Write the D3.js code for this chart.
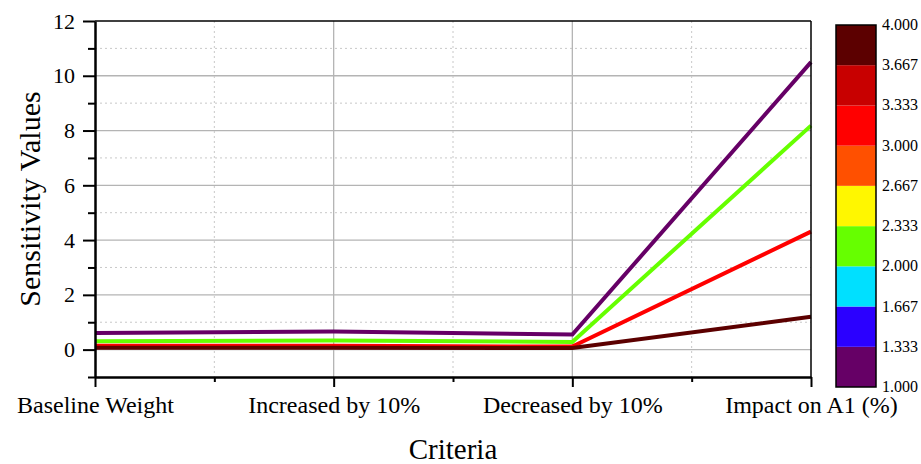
<!DOCTYPE html>
<html>
<head>
<meta charset="utf-8">
<script src="https://cdn.jsdelivr.net/npm/d3@7"></script>
<style>
  body { margin: 0; background: #fff; }
  text { font-family: "Liberation Serif", "Times New Roman", serif; }
</style>
</head>
<body>
<div id="figure-holder"></div>
<script>
// data
const categories = ['Baseline Weight', 'Increased by 10%', 'Decreased by 10%', 'Impact on A1 (%)'];
const seriesColors = ['#660066', '#66ff00', '#ff0000', '#5c0000'];
const purpleValues = [0.61, 0.66, 0.55, 10.5];
const greenValues = [0.31, 0.33, 0.28, 8.18];
const redValues = [0.14, 0.14, 0.11, 4.31];
const darkRedValues = [0.07, 0.07, 0.06, 1.2];
const yTicks = [0, 2, 4, 6, 8, 10, 12];
const colorbarTicks = ['1.000', '1.333', '1.667', '2.000', '2.333', '2.667', '3.000', '3.333', '3.667', '4.000'];
const colorbarColors = ['#660066', '#2b00ff', '#00e0ff', '#66ff00', '#fff700', '#ff5000', '#ff0000', '#c80000', '#5c0000'];

const W = 921, H = 464;
const plot = { left: 95, right: 811, top: 21, bottom: 377 };

const svg = d3.select('#figure-holder').append('svg')
    .attr('width', W)
    .attr('height', H);

const x = d3.scalePoint()
    .domain(categories)
    .range([plot.left, plot.right]);

const y = d3.scaleLinear()
    .domain([-1, 12])
    .range([plot.bottom, plot.top]);

const step = x.step();

// grid lines
const grid = svg.append('g');
d3.range(1, 12, 2).forEach(v => {
    grid.append('line')
        .attr('x1', plot.left).attr('x2', plot.right)
        .attr('y1', y(v)).attr('y2', y(v))
        .attr('stroke', '#c8c8c8').attr('stroke-dasharray', '2,3');
});
yTicks.filter(v => v < 12).forEach(v => {
    grid.append('line')
        .attr('x1', plot.left).attr('x2', plot.right)
        .attr('y1', y(v)).attr('y2', y(v))
        .attr('stroke', '#b4b4b4').attr('stroke-width', 1.3);
});
categories.slice(1, -1).forEach(c => {
    grid.append('line')
        .attr('x1', x(c)).attr('x2', x(c))
        .attr('y1', plot.top).attr('y2', plot.bottom)
        .attr('stroke', '#b4b4b4').attr('stroke-width', 1.3);
});
categories.slice(0, -1).forEach(c => {
    grid.append('line')
        .attr('x1', x(c) + step / 2).attr('x2', x(c) + step / 2)
        .attr('y1', plot.top).attr('y2', plot.bottom)
        .attr('stroke', '#c8c8c8').attr('stroke-dasharray', '2,3');
});

// lines
const line = d3.line()
    .x((d, i) => x(categories[i]))
    .y(d => y(d));

[purpleValues, greenValues, redValues, darkRedValues].forEach((vals, i) => {
    svg.append('path')
        .datum(vals)
        .attr('d', line)
        .attr('fill', 'none')
        .attr('stroke', seriesColors[i])
        .attr('stroke-width', 4)
        .attr('stroke-linejoin', 'miter');
});

// frame top and right
svg.append('line')
    .attr('x1', plot.left).attr('x2', plot.right)
    .attr('y1', plot.top).attr('y2', plot.top)
    .attr('stroke', '#000').attr('stroke-width', 1.5);
svg.append('line')
    .attr('x1', plot.right).attr('x2', plot.right)
    .attr('y1', plot.top).attr('y2', plot.bottom)
    .attr('stroke', '#000').attr('stroke-width', 1.5);

// y axis
const yAxis = svg.append('g')
    .attr('id', 'y-axis')
    .attr('transform', `translate(${plot.left}, 0)`)
    .call(d3.axisLeft(y).tickValues(yTicks).tickSize(12).tickPadding(8).tickSizeOuter(0));
const yMinor = svg.append('g')
    .attr('transform', `translate(${plot.left}, 0)`)
    .call(d3.axisLeft(y).tickValues(d3.range(-1, 12, 2)).tickSize(7).tickFormat('').tickSizeOuter(0));
yMinor.select('.domain').remove();

// x axis
const xAxis = svg.append('g')
    .attr('id', 'x-axis')
    .attr('transform', `translate(0, ${plot.bottom})`)
    .call(d3.axisBottom(x).tickSize(10).tickPadding(9).tickSizeOuter(0));
const xMinor = svg.append('g')
    .attr('transform', `translate(0, ${plot.bottom})`)
    .call(d3.axisBottom(d3.scaleLinear().domain([0, 1]).range([plot.left, plot.right]))
        .tickValues(d3.range(1, 6, 2).map(d => d / 6)).tickSize(5).tickFormat('').tickSizeOuter(0));
xMinor.select('.domain').remove();

svg.selectAll('#y-axis, #x-axis').select('.domain')
    .attr('stroke-width', 2.5);
svg.selectAll('.tick line').attr('stroke-width', 2);

svg.selectAll('#y-axis text')
    .style('font-size', '22px')
    .attr('fill', '#000');
svg.selectAll('#x-axis text')
    .style('font-size', '24px')
    .attr('fill', '#000');

// axis titles
svg.append('text')
    .text('Sensitivity Values')
    .attr('transform', `translate(40, ${(plot.top + plot.bottom) / 2}) rotate(-90)`)
    .attr('text-anchor', 'middle')
    .style('font-size', '30px');

svg.append('text')
    .text('Criteria')
    .attr('x', (plot.left + plot.right) / 2)
    .attr('y', 459)
    .attr('text-anchor', 'middle')
    .style('font-size', '29px');

// colorbar
const cb = { x: 836, w: 40, top: 25, bottom: 387 };
const cbScale = d3.scaleLinear()
    .domain([1, 4])
    .range([cb.bottom, cb.top]);
const cbVals = colorbarTicks.map(Number);

svg.append('g').selectAll('rect')
    .data(colorbarColors)
    .join('rect')
    .attr('x', cb.x)
    .attr('width', cb.w)
    .attr('y', (d, i) => cbScale(cbVals[i + 1]))
    .attr('height', (d, i) => cbScale(cbVals[i]) - cbScale(cbVals[i + 1]))
    .attr('fill', d => d);

svg.append('rect')
    .attr('x', cb.x).attr('y', cb.top)
    .attr('width', cb.w).attr('height', cb.bottom - cb.top)
    .attr('fill', 'none').attr('stroke', '#000').attr('stroke-width', 1.5);

svg.append('g').selectAll('text')
    .data(colorbarTicks)
    .join('text')
    .text(d => d)
    .attr('x', cb.x + cb.w + 6)
    .attr('y', d => cbScale(+d) + 5)
    .style('font-size', '16px');
</script>
</body>
</html>
